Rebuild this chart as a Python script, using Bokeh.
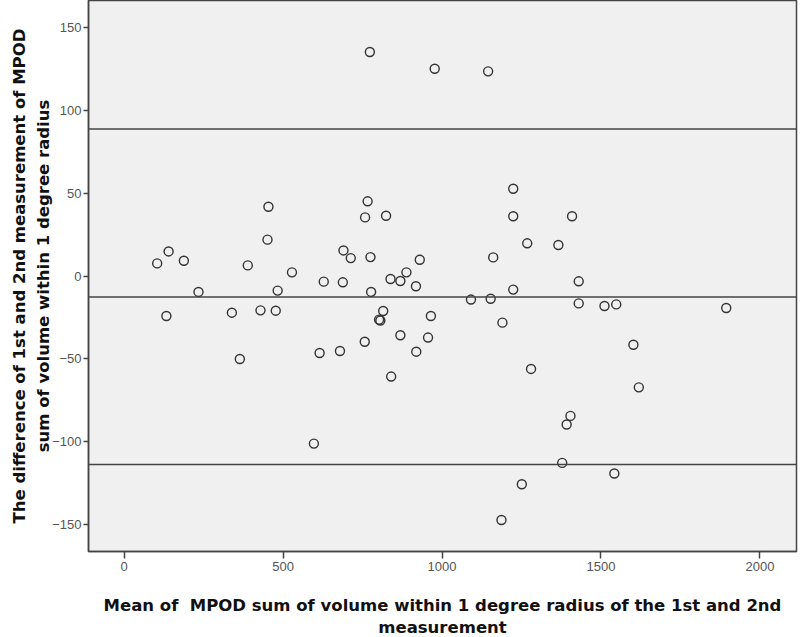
from bokeh.plotting import figure
from bokeh.models import FixedTicker, Span, Range1d, Spacer
from bokeh.layouts import row
from bokeh.embed import file_html
from bokeh.resources import INLINE

# Mean of the two measurements (x) and their difference (y)
mean_vals = [773, 977, 1145, 454, 766, 758, 824, 451, 140, 104, 188, 389, 528, 690,
             713, 775, 930, 628, 688, 838, 869, 888, 918, 234, 483, 777, 1224, 1224,
             1409, 1268, 1366, 1161, 1430, 1224, 133, 339, 364, 429, 477, 815, 802,
             806, 965, 956, 869, 757, 615, 679, 919, 840, 597, 1091, 1153, 1430, 1511,
             1548, 1894, 1190, 1602, 1280, 1619, 1404, 1392, 1378, 1542, 1251, 1187]
diff_vals = [135, 124.9, 123.3, 41.7, 45, 35.3, 36.3, 21.9, 14.8, 7.6, 9.2, 6.4, 2.2, 15.4,
             10.8, 11.4, 9.8, -3.4, -3.8, -1.8, -3, 2.2, -6.2, -9.6, -8.8, -9.6, 52.6, 36,
             36, 19.7, 18.7, 11.2, -3.2, -8.2, -24.1, -22.1, -50, -20.7, -20.9, -21.1, -26.3,
             -26.8, -24.1, -37.1, -35.7, -39.6, -46.4, -45.2, -45.6, -60.6, -101, -14.2, -13.7, -16.5, -18.1,
             -17.1, -19.3, -28.1, -41.4, -56, -67.1, -84.3, -89.5, -112.6, -119, -125.5, -147]

# Mean difference and limits of agreement
mean_diff = -12.7
upper_loa = 88.5
lower_loa = -113.6

x_ticks = [0, 500, 1000, 1500, 2000]
y_ticks = [-150, -100, -50, 0, 50, 100, 150]

x_label = "Mean of\u00a0 MPOD sum of volume within 1 degree radius of the 1st and 2nd\nmeasurement"
y_label = "The difference of 1st and 2nd measurement of MPOD\nsum of volume within 1 degree radius"

p = figure(frame_width=708, frame_height=551, output_backend="svg", toolbar_location=None,
           x_range=Range1d(-112, 2115), y_range=Range1d(-166, 166),
           min_border_left=60, min_border_right=3, min_border_top=0, min_border_bottom=78)

p.background_fill_color = "#f0f0f0"
p.border_fill_color = "white"
p.outline_line_color = "#444444"
p.outline_line_width = 1.5
p.xgrid.visible = False
p.ygrid.visible = False

for ax in (p.xaxis, p.yaxis):
    ax.axis_line_color = "#444444"
    ax.axis_line_width = 1.5
    ax.major_tick_line_color = "#444444"
    ax.major_tick_line_width = 1.5
    ax.major_tick_in = 0
    ax.minor_tick_line_color = None
    ax.major_label_text_font = "Liberation Sans"
    ax.major_label_text_font_size = "13px"
    ax.major_label_text_color = "#555555"
    ax.axis_label_text_font = "DejaVu Sans"
    ax.axis_label_text_font_style = "bold"
    ax.axis_label_text_font_size = "16.5px"
    ax.axis_label_text_color = "#111111"

p.xaxis.major_tick_out = 7
p.yaxis.major_tick_out = 5
p.xaxis.ticker = FixedTicker(ticks=x_ticks)
p.yaxis.ticker = FixedTicker(ticks=y_ticks)
p.xaxis.axis_label = x_label
p.yaxis.axis_label = y_label
p.xaxis.axis_label_text_line_height = 1.2
p.yaxis.axis_label_text_line_height = 1.3
p.xaxis.major_label_standoff = 3
p.yaxis.major_label_standoff = 2
p.xaxis.axis_label_standoff = 22
p.yaxis.axis_label_standoff = -4

for val in (upper_loa, mean_diff, lower_loa):
    p.add_layout(Span(location=val, dimension="width", line_color="#444444", line_width=1.5))

p.scatter(mean_vals, diff_vals, marker="circle", size=9, fill_color=None,
          line_color="#333333", line_width=1.4)

layout = row(Spacer(width=6, height=10), p)

open("out.html", "w").write(file_html(layout, INLINE))
